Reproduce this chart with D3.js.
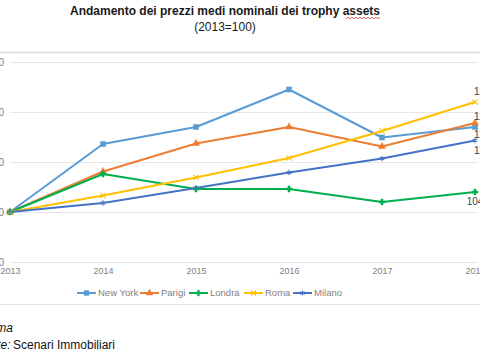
<!DOCTYPE html>
<html><head><meta charset="utf-8">
<script src="https://cdn.jsdelivr.net/npm/d3@7"></script>
<style>
html,body{margin:0;padding:0;background:#fff;overflow:hidden;}
svg{display:block;font-family:"Liberation Sans",Arial,sans-serif;}
</style></head>
<body><svg id="c" width="480" height="360"></svg>
<script>
const years = ["2013","2014","2015","2016","2017","2018"];
const newYork = [100, 113.6, 117, 124.5, 114.9, 117];
const parigi  = [100, 108.1, 113.7, 117, 113.1, 117.8];
const londra  = [100, 107.6, 104.6, 104.6, 102, 104];
const roma    = [100, 103.3, 106.9, 110.8, 116.2, 122];
const milano  = [100, 101.8, 104.8, 107.9, 110.7, 114.3];
const yTicks = [90, 100, 110, 120, 130];
const seriesNames = ["New York","Parigi","Londra","Roma","Milano"];
const seriesColors = ["#5B9BD5","#ED7D31","#00B050","#FFC000","#4472C4"];
const endLabels = ["117","118","104","122","114"];

const series = [
  {name: seriesNames[0], values: newYork, color: seriesColors[0], sym: d3.symbolSquare, fill: true, size: 26, lab: endLabels[0], dy: 11, anchor: "start"},
  {name: seriesNames[1], values: parigi, color: seriesColors[1], sym: d3.symbolTriangle, fill: true, size: 22, lab: endLabels[1], dy: -3, anchor: "start"},
  {name: seriesNames[2], values: londra, color: seriesColors[2], sym: d3.symbolCross, fill: true, size: 20, lab: endLabels[2], dy: 13, anchor: "middle"},
  {name: seriesNames[3], values: roma, color: seriesColors[3], sym: d3.symbolX, fill: false, size: 20, lab: endLabels[3], dy: -7, anchor: "start"},
  {name: seriesNames[4], values: milano, color: seriesColors[4], sym: d3.symbolAsterisk, fill: false, size: 20, lab: endLabels[4], dy: 13, anchor: "start"}
];

const svg = d3.select("#c");
const x = d3.scalePoint().domain(years).range([10, 475]);
const y = d3.scaleLinear().domain([90, 130]).range([262, 62]);

// title
svg.append("text").attr("x", 225).attr("y", 15).attr("text-anchor", "middle")
  .attr("font-size", 13).attr("font-weight", "bold").attr("fill", "#1a1a1a")
  .attr("textLength", 310).attr("lengthAdjust", "spacingAndGlyphs")
  .text("Andamento dei prezzi medi nominali dei trophy assets");
// spell-check squiggle under "assets"
{
  let p = "M346,18.5";
  for (let i = 348; i <= 380; i += 2) p += "L" + i + "," + (i % 4 === 0 ? 17.3 : 18.7);
  svg.append("path").attr("d", p).attr("fill", "none").attr("stroke", "#e23b3b").attr("stroke-width", 0.8);
}
svg.append("text").attr("x", 225).attr("y", 31).attr("text-anchor", "middle")
  .attr("font-size", 12).attr("fill", "#1a1a1a").text("(2013=100)");

// chart frame lines
svg.append("line").attr("x1", 0).attr("x2", 480).attr("y1", 52.5).attr("y2", 52.5)
  .attr("stroke", "#d9d9d9").attr("stroke-width", 1.5);
svg.append("line").attr("x1", 0).attr("x2", 480).attr("y1", 304.5).attr("y2", 304.5)
  .attr("stroke", "#e3e3e3").attr("stroke-width", 1);

// gridlines + y tick labels
const yAxis = d3.axisLeft(y).tickValues(yTicks).tickSize(-468).tickPadding(6);
const gy = svg.append("g").attr("transform", "translate(10,0)").call(yAxis);
gy.select(".domain").remove();
gy.selectAll(".tick line").attr("stroke", "#e6e6e6").attr("stroke-width", 1);
gy.selectAll(".tick text").attr("font-size", 10).attr("fill", "#7f7f7f")
  .attr("font-family", "Liberation Sans, Arial, sans-serif");

// x axis labels
const xAxis = d3.axisBottom(x).tickSize(0).tickPadding(6);
const gx = svg.append("g").attr("transform", "translate(0,262)").call(xAxis);
gx.select(".domain").remove();
gx.selectAll(".tick text").attr("font-size", 9).attr("fill", "#7f7f7f")
  .attr("font-family", "Liberation Sans, Arial, sans-serif");

// lines
const line = d3.line().x((d, i) => x(years[i])).y(d => y(d));
series.forEach(s => {
  svg.append("path").datum(s.values).attr("d", line).attr("fill", "none")
    .attr("stroke", s.color).attr("stroke-width", 2).attr("stroke-linejoin", "round");
});
// markers
series.forEach(s => {
  const sym = d3.symbol().type(s.sym).size(s.size);
  svg.append("g").selectAll("path").data(s.values).join("path")
    .attr("transform", (d, i) => `translate(${x(years[i])},${y(d)})`)
    .attr("d", sym)
    .attr("fill", s.fill ? s.color : "none")
    .attr("stroke", s.color).attr("stroke-width", s.fill ? 0.5 : 1.1);
});
// end data labels
series.forEach(s => {
  const v = s.values[s.values.length - 1];
  svg.append("text")
    .attr("x", x(years[years.length - 1]) + (s.anchor === "start" ? -1 : 0))
    .attr("y", y(v) + s.dy)
    .attr("text-anchor", s.anchor)
    .attr("font-size", 10).attr("fill", "#404040").text(s.lab);
});

// legend
const legX = [77, 140, 189, 244, 293];
series.forEach((s, i) => {
  const g = svg.append("g").attr("transform", `translate(${legX[i]},293)`);
  g.append("line").attr("x1", 0).attr("x2", 19).attr("stroke", s.color).attr("stroke-width", 2);
  g.append("path").attr("transform", "translate(9.5,0)")
    .attr("d", d3.symbol().type(s.sym).size(s.size * 0.9))
    .attr("fill", s.fill ? s.color : "none").attr("stroke", s.color)
    .attr("stroke-width", s.fill ? 0.5 : 1.1);
  g.append("text").attr("x", 21).attr("y", 3).attr("font-size", 9.5).attr("fill", "#7f7f7f").text(s.name);
});

// footer notes (cropped at left edge like the reference)
svg.append("text").attr("x", 13).attr("y", 332).attr("text-anchor", "end")
  .attr("font-size", 12).attr("font-style", "italic").attr("fill", "#111").text("Nomisma");
svg.append("text").attr("x", 10.5).attr("y", 349).attr("text-anchor", "end")
  .attr("font-size", 12).attr("font-style", "italic").attr("fill", "#111").text("Fonte:");
svg.append("text").attr("x", 13).attr("y", 349).attr("font-size", 12).attr("fill", "#111").text("Scenari Immobiliari");
</script></body></html>
